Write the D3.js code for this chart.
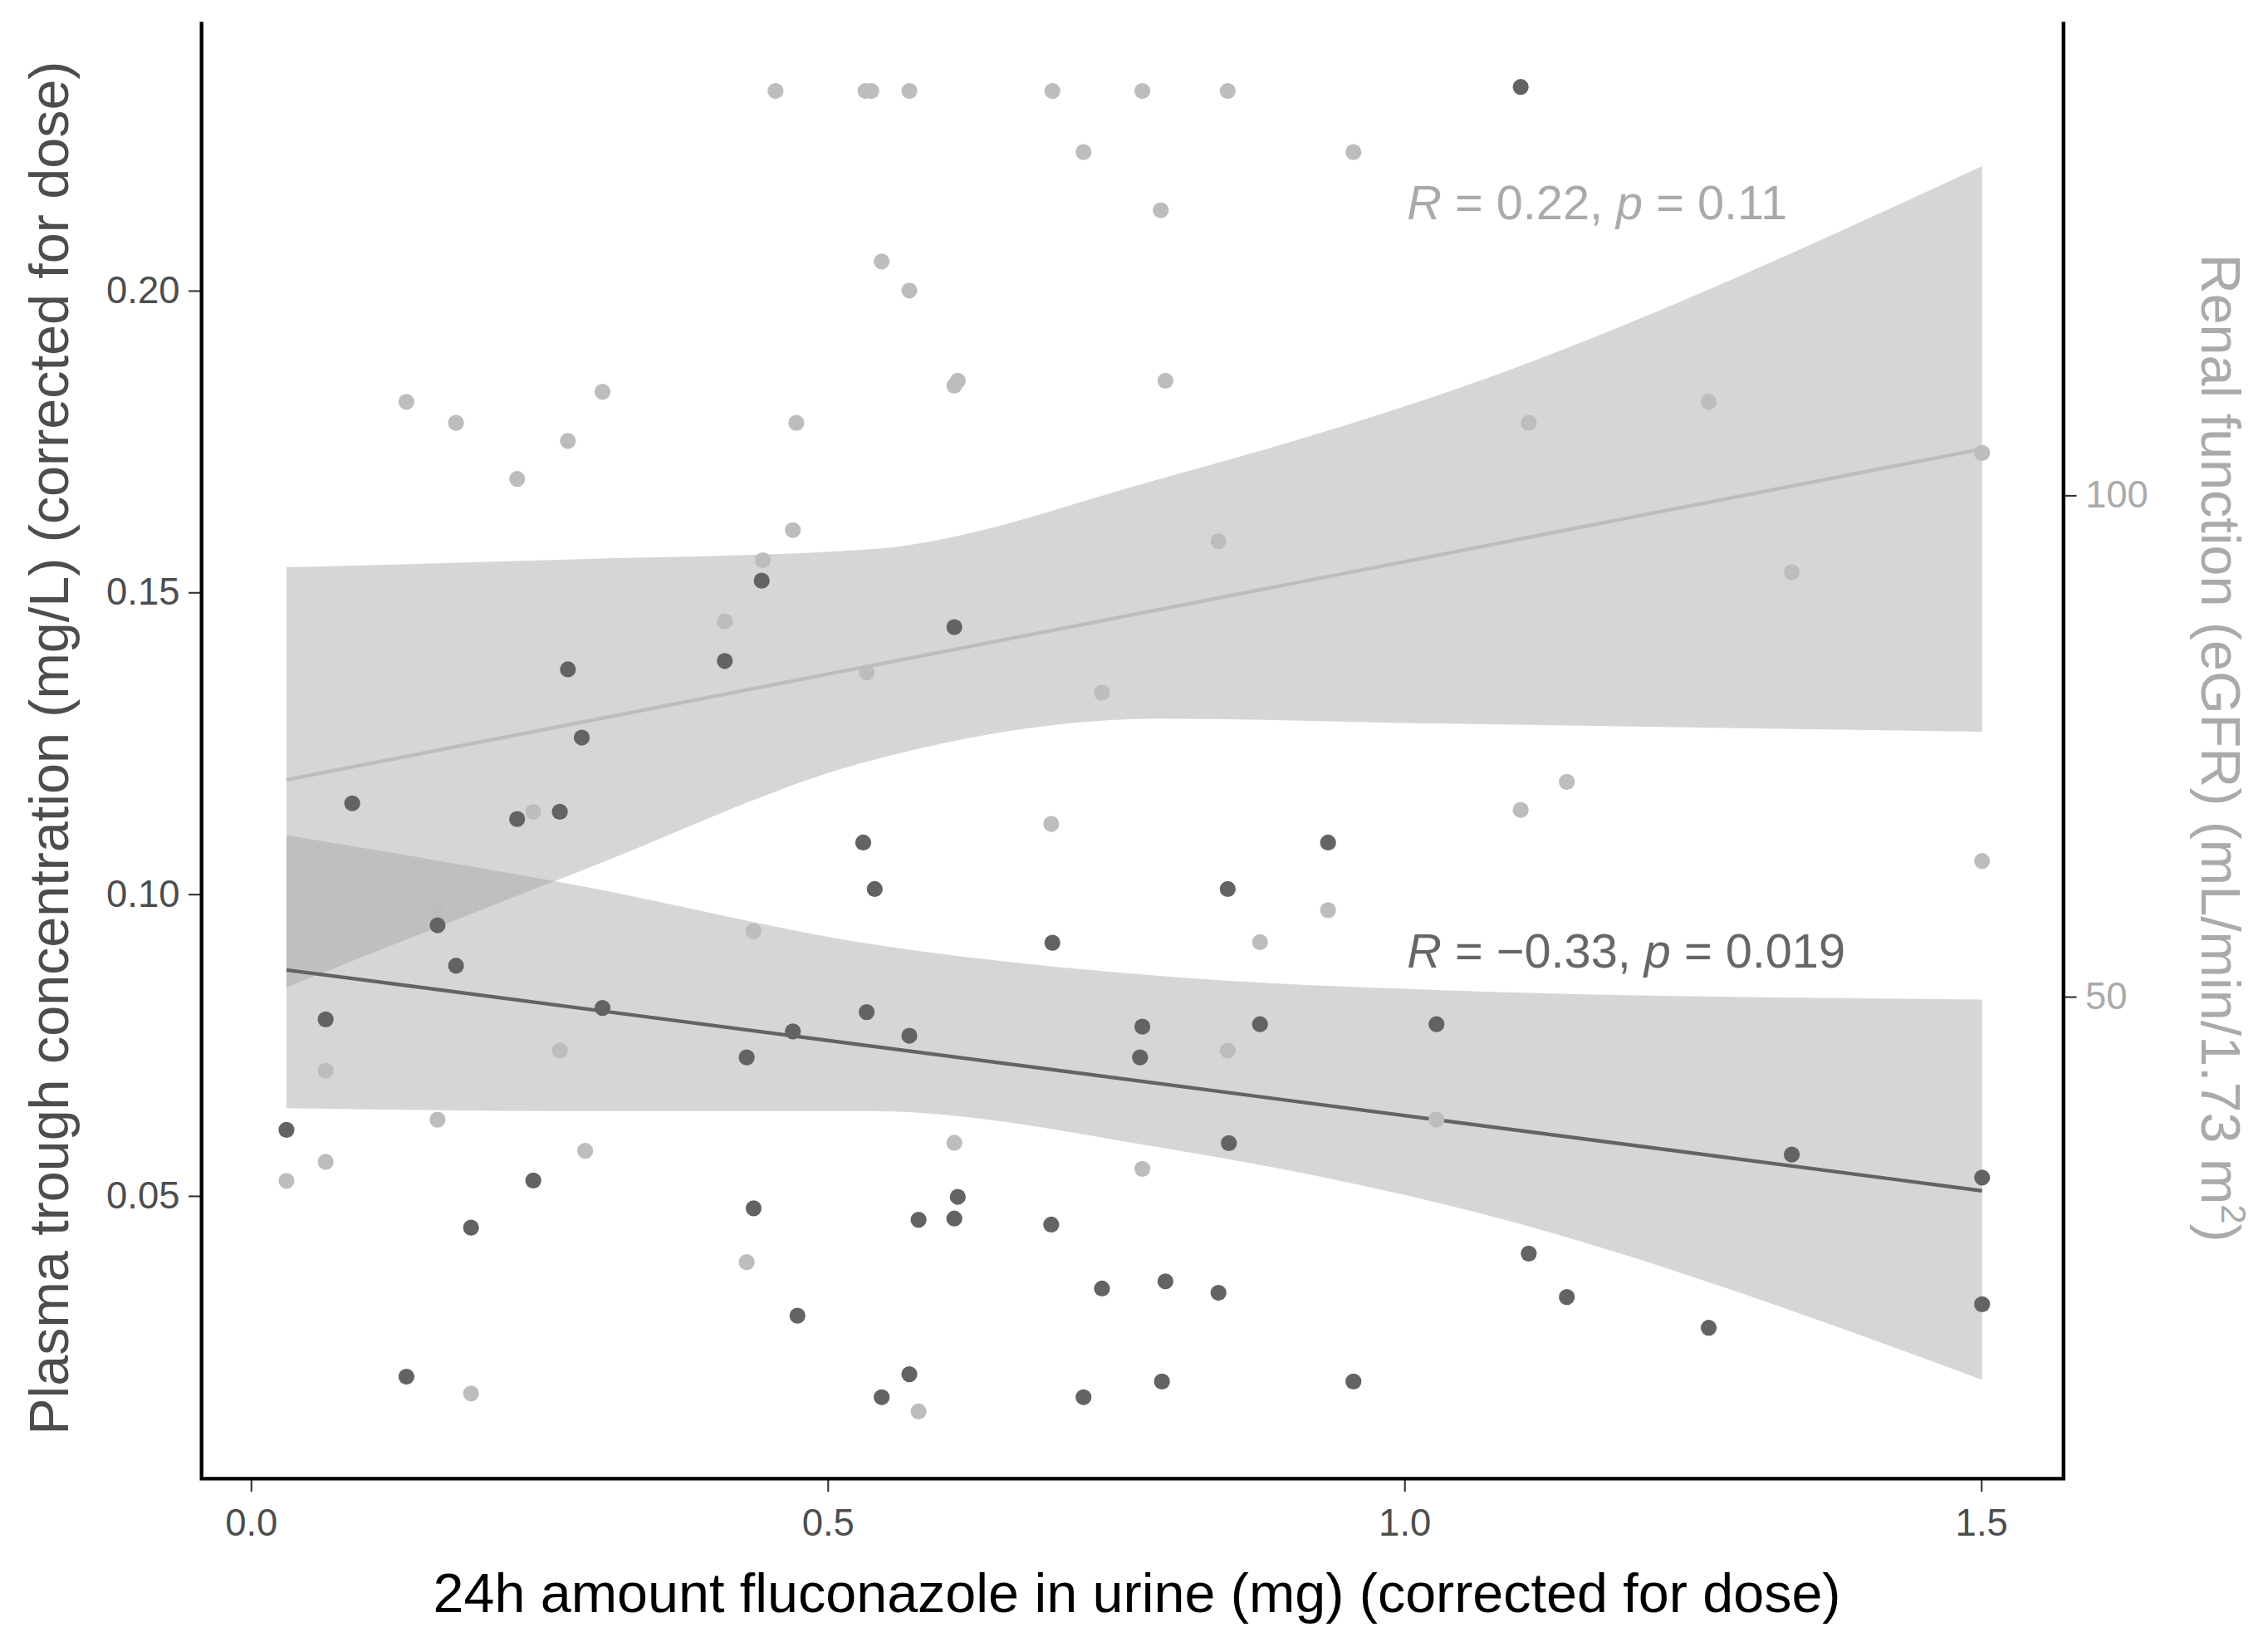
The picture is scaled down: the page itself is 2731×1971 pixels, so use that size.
<!DOCTYPE html>
<html><head><meta charset="utf-8">
<script src="https://cdn.jsdelivr.net/npm/d3@7"></script>
<style>body{margin:0;background:#fff}svg{display:block}</style>
</head><body>
<svg id="chart" width="2731" height="1971" viewBox="0 0 1560 1127"></svg>
<script>
// plasma trough (left axis)
const plasmaX = [1.101,0.443,0.411,0.610,0.275,0.287,0.088,0.231,0.268,0.531,0.541,0.934,0.162,0.847,0.178,0.065,0.305,0.430,0.470,0.534,0.571,0.695,0.773,0.771,0.875,1.028,0.031,0.848,1.336,1.501,0.245,0.436,0.613,0.610,0.579,0.694,0.191,1.108,1.141,0.738,0.793,0.839,0.474,1.264,1.501,0.135,0.571,0.547,0.722,0.790,0.956];
const plasmaY = [0.2337,0.1519,0.1386,0.1442,0.1372,0.1259,0.1150,0.1124,0.1136,0.1085,0.1008,0.1085,0.0948,0.1008,0.0881,0.0792,0.0811,0.0729,0.0772,0.0804,0.0765,0.0919,0.0780,0.0729,0.0784,0.0784,0.0609,0.0587,0.0568,0.0530,0.0525,0.0479,0.0498,0.0462,0.0460,0.0452,0.0447,0.0404,0.0332,0.0346,0.0358,0.0339,0.0301,0.0281,0.0320,0.0200,0.0204,0.0166,0.0166,0.0192,0.0192];
// renal function (right axis)
const egfrX = [0.455,0.533,0.538,0.571,0.695,0.773,0.847,0.722,0.956,0.789,0.547,0.571,0.135,0.178,0.305,0.275,0.231,0.473,0.610,0.613,0.793,1.264,1.108,0.470,0.839,1.501,0.444,1.336,0.411,0.534,0.738,0.245,0.694,1.101,1.141,1.501,0.162,0.934,0.436,0.875,0.065,0.268,0.847,0.031,0.065,0.162,0.290,1.028,0.773,0.610,0.430,0.191,0.579];
const egfrY = [140.3,140.3,140.3,140.3,140.3,140.3,140.3,134.2,134.2,128.4,123.3,120.4,109.3,107.2,110.3,105.4,101.6,107.2,110.9,111.4,111.4,109.3,107.2,96.5,95.4,104.2,93.5,92.3,87.4,82.3,80.3,68.4,67.2,68.6,71.4,63.5,58.6,58.6,56.5,55.4,42.6,44.6,44.6,31.6,33.5,37.7,34.6,37.7,32.8,35.4,23.5,10.4,8.6];
// fitted lines and confidence bands
const fitX = [0.031,1.501];
const plasmaFit = [0.0874,0.0508];
const egfrFit = [71.6,104.6];
const bandX = [0.031,0.286,0.537,0.788,1.038,1.501];
const plasmaUpper = [0.1097,0.1013,0.0917,0.0864,0.0840,0.0825];
const plasmaLower = [0.0645,0.0640,0.0640,0.0580,0.0484,0.0195];
const egfrUpper = [92.8,93.6,94.6,101.6,110.3,132.8];
const egfrLower = [50.9,62.5,73.5,77.7,77.2,76.4];
const xTicks = [0.0,0.5,1.0,1.5];
const leftTicks = [0.05,0.10,0.15,0.20];
const rightTicks = [50,100];

const svg = d3.select("#chart");
const L = 138, R = 1420, T = 15, B = 1018;
const x = d3.scaleLinear().domain([-0.0426,1.5716]).range([L,R]);
const yL = d3.scaleLinear().domain([0.0031,0.2445]).range([B,T]);
const yR = d3.scaleLinear().domain([1.9,147.2]).range([B,T]);
const font = "Liberation Sans, Arial, sans-serif";
const DARK = "#636363", LIGHT = "#bdbdbd";

function band(up, lo, y) {
  return d3.area().curve(d3.curveMonotoneX)
    .x((d,i) => x(bandX[i])).y0((d,i) => y(lo[i])).y1((d,i) => y(up[i]))(up);
}
svg.append("path").attr("d", band(egfrUpper, egfrLower, yR)).attr("fill","#a2a2a2").attr("opacity",0.44);
svg.append("path").attr("d", band(plasmaUpper, plasmaLower, yL)).attr("fill","#a2a2a2").attr("opacity",0.44);

const line = (vals, y) => d3.line().x((d,i) => x(fitX[i])).y(d => y(d))(vals);
svg.append("path").attr("d", line(egfrFit, yR)).attr("stroke", LIGHT).attr("stroke-width",2.5).attr("fill","none");
svg.append("path").attr("d", line(plasmaFit, yL)).attr("stroke", DARK).attr("stroke-width",2.5).attr("fill","none");

svg.append("g").selectAll("circle").data(egfrX).join("circle")
  .attr("cx", d => x(d)).attr("cy", (d,i) => yR(egfrY[i])).attr("r",5.5).attr("fill", LIGHT);
svg.append("g").selectAll("circle").data(plasmaX).join("circle")
  .attr("cx", d => x(d)).attr("cy", (d,i) => yL(plasmaY[i])).attr("r",5.5).attr("fill", DARK);

function styleAxis(g, col) {
  g.select(".domain").remove();
  g.selectAll(".tick line").attr("stroke","#333").attr("stroke-width",1.2);
  g.selectAll(".tick text").attr("fill", col).style("font-family", font).style("font-size","26px");
}
svg.append("g").attr("transform",`translate(0,${B})`)
  .call(d3.axisBottom(x).tickValues(xTicks).tickFormat(d3.format(".1f")).tickSize(9).tickPadding(12))
  .call(g => styleAxis(g, "#4d4d4d"));
svg.append("g").attr("transform",`translate(${L},0)`)
  .call(d3.axisLeft(yL).tickValues(leftTicks).tickFormat(d3.format(".2f")).tickSize(9).tickPadding(6))
  .call(g => styleAxis(g, "#4d4d4d"));
svg.append("g").attr("transform",`translate(${R},0)`)
  .call(d3.axisRight(yR).tickValues(rightTicks).tickSize(9).tickPadding(6))
  .call(g => styleAxis(g, "#aaaaaa"));

svg.append("path").attr("d",`M${L},${T}V${B}H${R}V${T}`).attr("fill","none").attr("stroke","#000").attr("stroke-width",2.5);

svg.append("text").attr("x",782).attr("y",1110).attr("text-anchor","middle")
  .style("font-family",font).style("font-size","38px").attr("fill","#000")
  .text("24h amount fluconazole in urine (mg) (corrected for dose)");
svg.append("text").attr("transform","translate(46,515) rotate(-90)").attr("text-anchor","middle")
  .style("font-family",font).style("font-size","38px").attr("fill","#4d4d4d")
  .text("Plasma trough concentration (mg/L) (corrected for dose)");
const rt = svg.append("text").attr("transform","translate(1515,515) rotate(90)").attr("text-anchor","middle")
  .style("font-family",font).style("font-size","38px").attr("fill","#aaaaaa");
rt.append("tspan").text("Renal function (eGFR) (mL/min/1.73 m");
rt.append("tspan").attr("dy",-14).style("font-size","24px").text("2");
rt.append("tspan").attr("dy",14).text(")");

function annot(y, r, p, col) {
  const t = svg.append("text").attr("x",968).attr("y",y).style("font-family",font).style("font-size","33px").attr("fill",col);
  t.append("tspan").style("font-style","italic").text("R");
  t.append("tspan").text(` = ${r}, `);
  t.append("tspan").style("font-style","italic").text("p");
  t.append("tspan").text(` = ${p}`);
}
annot(151, "0.22", "0.11", "#aaaaaa");
annot(666, "\u22120.33", "0.019", "#666666");
</script>
</body></html>
